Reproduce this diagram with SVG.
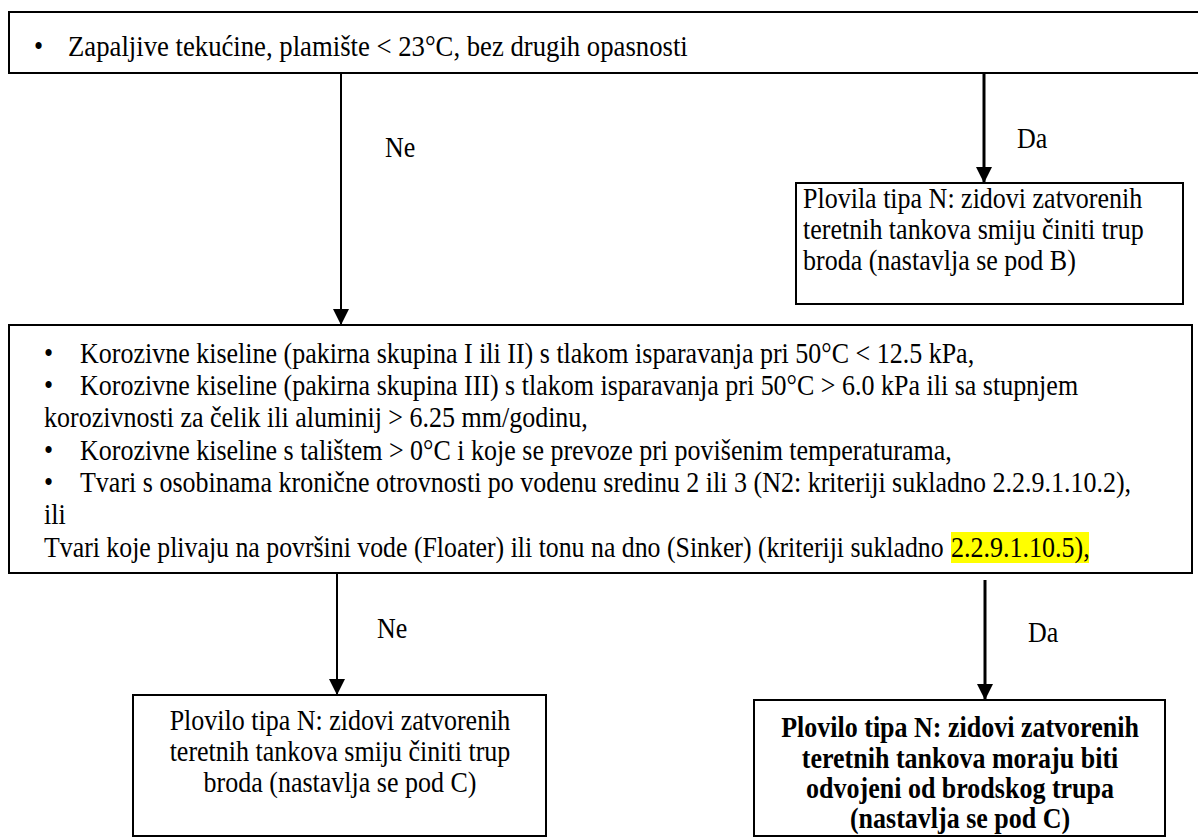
<svg xmlns="http://www.w3.org/2000/svg" width="1198" height="838" viewBox="0 0 1198 838">
<style>
  .box { fill: #ffffff; stroke: #000000; stroke-width: 2; }
  .t { font-family: "Liberation Serif", "Times New Roman", serif; font-size: 30px; fill: #000000; }
  .b { font-weight: bold; }
  .c { text-anchor: middle; }
  .thin { stroke: #000000; stroke-width: 2; fill: none; }
  .thick { stroke: #000000; stroke-width: 3; fill: none; }
  .hl { fill: #ffff00; }
</style>
<defs>
  <marker id="arr" markerUnits="userSpaceOnUse" markerWidth="16" markerHeight="16" refX="16" refY="8" orient="auto">
    <path d="M0,0 L16,8 L0,16 Z" fill="#000000"/>
  </marker>
</defs>
<rect width="1198" height="838" fill="#ffffff"/>

<g id="connectors">
  <line class="thin" x1="341" y1="73" x2="341" y2="325" marker-end="url(#arr)"/>
  <line class="thick" x1="984" y1="73" x2="984" y2="183" marker-end="url(#arr)"/>
  <line class="thin" x1="337" y1="573" x2="337" y2="695" marker-end="url(#arr)"/>
  <line class="thick" x1="985" y1="580" x2="985" y2="700" marker-end="url(#arr)"/>
  <g transform="scale(0.8667 1)">
    <text class="t" x="444.2" y="157">Ne</text>
    <text class="t" x="1173.4" y="148">Da</text>
    <text class="t" x="435" y="638">Ne</text>
    <text class="t" x="1186.2" y="642">Da</text>
  </g>
</g>

<g id="n_start">
  <rect class="box" x="9" y="12" width="1190" height="61"/>
  <g transform="scale(0.8667 1)">
    <text class="t" x="39.2" y="56">•</text>
    <text class="t" x="78.5" y="56" textLength="715" lengthAdjust="spacingAndGlyphs">Zapaljive tekućine, plamište &lt; 23°C, bez drugih opasnosti</text>
  </g>
</g>

<g id="n_b">
  <rect class="box" x="796" y="183" width="387" height="121"/>
  <g transform="scale(0.8667 1)">
    <text class="t" x="926.5" y="208">Plovila tipa N: zidovi zatvorenih</text>
    <text class="t" x="926.5" y="239">teretnih tankova smiju činiti trup</text>
    <text class="t" x="926.5" y="270">broda (nastavlja se pod B)</text>
  </g>
</g>

<g id="n_corr">
  <rect class="box" x="9" y="325" width="1183" height="248"/>
  <rect class="hl" x="951" y="532" width="138" height="31"/>
  <g transform="scale(0.8667 1)">
    <text class="t" x="50.8" y="363">•</text>
    <text class="t" x="92.3" y="363">Korozivne kiseline (pakirna skupina I ili II) s tlakom isparavanja pri 50°C &lt; 12.5 kPa,</text>
    <text class="t" x="50.8" y="395">•</text>
    <text class="t" x="92.3" y="395">Korozivne kiseline (pakirna skupina III) s tlakom isparavanja pri 50°C &gt; 6.0 kPa ili sa stupnjem</text>
    <text class="t" x="50.8" y="427">korozivnosti za čelik ili aluminij &gt; 6.25 mm/godinu,</text>
    <text class="t" x="50.8" y="460">•</text>
    <text class="t" x="92.3" y="460">Korozivne kiseline s talištem &gt; 0°C i koje se prevoze pri povišenim temperaturama,</text>
    <text class="t" x="50.8" y="492">•</text>
    <text class="t" x="92.3" y="492">Tvari s osobinama kronične otrovnosti po vodenu sredinu 2 ili 3 (N2: kriteriji sukladno 2.2.9.1.10.2),</text>
    <text class="t" x="50.8" y="524">ili</text>
    <text class="t" x="50.8" y="557" textLength="1038" lengthAdjust="spacingAndGlyphs">Tvari koje plivaju na površini vode (Floater) ili tonu na dno (Sinker) (kriteriji sukladno</text>
    <text class="t" x="1097.3" y="557">2.2.9.1.10.5),</text>
  </g>
</g>

<g id="n_c_ne">
  <rect class="box" x="133" y="695" width="413" height="141"/>
  <g transform="scale(0.8667 1)">
    <text class="t c" x="392.3" y="730">Plovilo tipa N: zidovi zatvorenih</text>
    <text class="t c" x="392.3" y="761">teretnih tankova smiju činiti trup</text>
    <text class="t c" x="392.3" y="792">broda (nastavlja se pod C)</text>
  </g>
</g>

<g id="n_c_da">
  <rect class="box" x="754" y="700" width="411" height="136"/>
  <g transform="scale(0.8667 1)">
    <text class="t b c" x="1107.7" y="737">Plovilo tipa N: zidovi zatvorenih</text>
    <text class="t b c" x="1107.7" y="768">teretnih tankova moraju biti</text>
    <text class="t b c" x="1107.7" y="798">odvojeni od brodskog trupa</text>
    <text class="t b c" x="1107.7" y="828">(nastavlja se pod C)</text>
  </g>
</g>
</svg>
